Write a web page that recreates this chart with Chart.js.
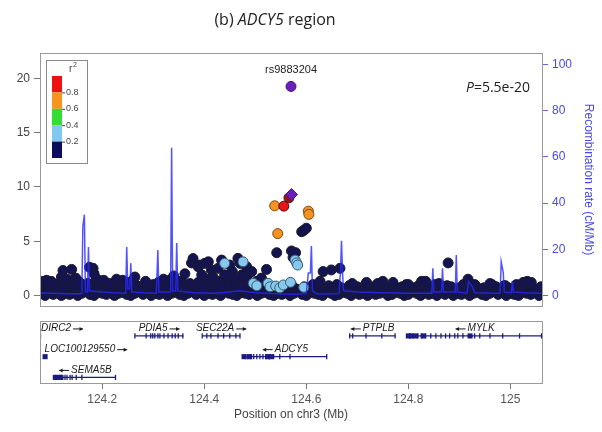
<!DOCTYPE html>
<html><head><meta charset="utf-8">
<script src="https://cdn.jsdelivr.net/npm/chart.js@4"></script>
<style>
html,body{margin:0;padding:0;background:#fff;}
#wrap{position:relative;width:602px;height:432px;overflow:hidden;}
canvas{position:absolute;left:0;top:0;}
</style></head><body>
<div id="wrap"><canvas id="c1" width="602" height="432" style="width:602px;height:432px"></canvas><canvas id="c2" width="602" height="432" style="width:602px;height:432px"></canvas></div>
<script>
// ---------------- DATA ----------------
const xRange = [124.078, 125.062];
const yTicks = [0, 5, 10, 15, 20];
const y2Ticks = [0, 20, 40, 60, 80, 100];
const xTicks = [124.2, 124.4, 124.6, 124.8, 125.0];
const r2Legend = ['0.8', '0.6', '0.4', '0.2'];

// recombination rate (cM/Mb)
const recomb = [[124.078,1.2],[124.10,1.0],[124.13,0.8],[124.160,0.8],[124.162,30],[124.165,35],[124.167,1.5],[124.171,1.5],[124.173,21],[124.175,2],[124.20,1.5],[124.22,1.2],[124.246,1.0],[124.248,21],[124.250,3],[124.254,3],[124.256,14],[124.258,1.5],[124.28,1.2],[124.306,1.0],[124.309,19.7],[124.311,1.5],[124.334,1.5],[124.336,64],[124.338,2],[124.344,2],[124.346,22.7],[124.348,2],[124.38,1.2],[124.42,1.0],[124.45,1.5],[124.47,2.0],[124.50,1.2],[124.55,0.6],[124.58,0.5],[124.600,0.8],[124.604,9.7],[124.608,9.7],[124.610,21.4],[124.612,2],[124.62,0.8],[124.64,0.6],[124.664,0.8],[124.667,10],[124.669,23.7],[124.671,10],[124.673,2],[124.70,1.5],[124.75,1.2],[124.80,1.0],[124.846,1.0],[124.848,11.8],[124.850,1.5],[124.865,1.5],[124.867,11.8],[124.869,1.5],[124.892,1.5],[124.894,17.5],[124.896,1.5],[124.915,1.0],[124.918,6],[124.925,4],[124.93,1.2],[124.97,1.0],[124.980,1.0],[124.982,14.6],[124.986,10],[124.988,1.5],[125.002,1.2],[125.004,6.3],[125.006,1.5],[125.03,1.2],[125.061,1.0]];

// SNPs with r2 < 0.2 (navy): low row, upper row, elevated
const navyLowPos = [124.080,124.088,124.096,124.104,124.112,124.120,124.128,124.136,124.144,124.152,124.160,124.168,124.176,124.184,124.192,124.200,124.208,124.216,124.224,124.232,124.240,124.248,124.256,124.264,124.272,124.280,124.288,124.296,124.304,124.312,124.320,124.328,124.336,124.344,124.352,124.360,124.368,124.376,124.384,124.392,124.400,124.408,124.416,124.424,124.432,124.440,124.448,124.456,124.464,124.472,124.480,124.488,124.496,124.504,124.512,124.520,124.528,124.536,124.544,124.552,124.560,124.568,124.576,124.584,124.592,124.600,124.608,124.616,124.624,124.632,124.640,124.648,124.656,124.664,124.672,124.680,124.688,124.696,124.704,124.712,124.720,124.728,124.736,124.744,124.752,124.760,124.768,124.776,124.784,124.792,124.800,124.808,124.816,124.824,124.832,124.840,124.848,124.856,124.864,124.872,124.880,124.888,124.896,124.904,124.912,124.920,124.928,124.936,124.944,124.952,124.960,124.968,124.976,124.984,124.992,125.000,125.008,125.016,125.024,125.032,125.040,125.048,125.056];
const navyLowP = [0.2,0.0,0.3,0.1,0.4,0.0,0.2,0.1,0.3,0.0,0.2,0.4,0.1,0.0,0.3,0.2,0.1,0.4,0.0,0.2,0.3,0.1,0.0,0.2,0.4,0.1,0.3,0.0,0.2,0.1,0.4,0.0,0.2,0.3,0.1,0.0,0.2,0.4,0.1,0.3,0.0,0.2,0.1,0.3,0.0,0.4,0.2,0.1,0.0,0.3,0.2,0.1,0.4,0.0,0.2,0.3,0.1,0.0,0.2,0.1,0.3,0.0,0.2,0.4,0.1,0.0,0.3,0.2,0.1,0.0,0.4,0.2,0.0,0.1,0.3,0.2,0.0,0.4,0.1,0.2,0.0,0.3,0.1,0.2,0.4,0.0,0.1,0.3,0.2,0.0,0.1,0.4,0.2,0.0,0.3,0.1,0.2,0.0,0.4,0.1,0.3,0.0,0.2,0.1,0.4,0.0,0.2,0.3,0.1,0.0,0.2,0.4,0.1,0.3,0.0,0.2,0.1,0.0,0.3,0.2,0.1,0.4,0.0];
const navyMidPos = [124.084,124.092,124.100,124.108,124.116,124.124,124.132,124.140,124.148,124.156,124.164,124.172,124.180,124.188,124.196,124.204,124.212,124.220,124.228,124.236,124.244,124.252,124.260,124.268,124.276,124.284,124.292,124.300,124.308,124.316,124.324,124.332,124.340,124.348,124.356,124.364,124.372,124.380,124.388,124.396,124.404,124.412,124.420,124.428,124.436,124.444,124.452,124.460,124.468,124.476,124.484,124.492,124.500,124.508,124.516,124.524,124.532,124.540,124.548,124.556,124.564,124.572,124.580,124.588,124.596,124.604,124.612,124.620,124.628,124.636,124.644,124.652,124.660,124.668,124.676,124.684,124.692,124.700,124.708,124.716,124.724,124.732,124.740,124.748,124.756,124.764,124.772,124.780,124.788,124.796,124.804,124.812,124.820,124.828,124.836,124.844,124.852,124.860,124.868,124.876,124.884,124.892,124.900,124.908,124.916,124.924,124.932,124.940,124.948,124.956,124.964,124.972,124.980,124.988,124.996,125.004,125.012,125.020,125.028,125.036,125.044,125.052,125.060];
const navyMidP = [1.0,0.7,1.3,0.8,1.1,0.6,1.4,0.9,0.7,1.2,0.8,1.1,0.7,1.5,0.9,1.2,0.6,1.0,1.3,0.8,1.1,0.7,1.4,0.9,0.6,1.1,0.8,1.0,0.7,1.2,0.9,1.4,0.6,1.0,1.3,0.8,1.1,0.9,1.2,0.8,1.5,1.0,0.7,1.3,0.9,1.6,1.1,0.8,1.2,0.9,1.2,0.6,1.0,0.8,1.1,0.7,0.5,0.8,0.4,0.7,0.5,0.9,0.6,0.4,0.8,0.5,0.7,0.6,0.8,0.5,0.9,0.6,1.0,0.7,0.5,0.9,0.6,0.8,0.5,1.0,0.7,0.8,0.6,1.0,0.7,0.5,0.9,0.6,0.8,1.0,0.5,0.7,0.9,0.6,0.8,0.5,1.0,0.7,0.6,0.9,0.8,0.5,0.7,1.0,0.6,0.8,0.9,0.5,0.7,0.6,1.0,0.8,0.5,0.9,0.7,0.6,1.0,0.8,0.6,0.9,0.7,0.5,0.8];
const navyHighPos = [124.084,124.091,124.103,124.120,124.123,124.131,124.140,124.148,124.155,124.175,124.182,124.184,124.190,124.203,124.214,124.228,124.240,124.252,124.264,124.285,124.310,124.320,124.340,124.352,124.362,124.375,124.378,124.388,124.391,124.395,124.401,124.408,124.410,124.414,124.417,124.427,124.434,124.440,124.450,124.455,124.458,124.466,124.470,124.474,124.483,124.484,124.493,124.503,124.512,124.522,124.542,124.571,124.574,124.579,124.591,124.595,124.600,124.613,124.627,124.633,124.649,124.666,124.690,124.718,124.740,124.750,124.770,124.800,124.826,124.834,124.860,124.878,124.917,124.930,124.960,124.990,125.025,125.033,125.041];
const navyHighP = [1.3,1.4,1.1,1.7,2.3,1.5,2.4,1.6,1.2,2.6,2.5,2.0,1.5,1.4,1.1,1.5,1.4,1.2,1.7,1.3,1.2,1.5,1.8,1.3,2.0,3.0,3.4,2.65,2.8,1.9,2.96,3.1,1.3,2.35,1.7,2.5,3.26,1.9,2.8,2.2,1.6,3.42,2.96,1.9,2.65,1.6,2.2,1.3,1.6,2.4,3.94,4.1,3.5,3.94,5.87,6.0,6.2,1.0,1.3,2.2,2.35,2.5,1.1,1.2,1.1,1.3,1.2,1.0,1.3,1.3,1.1,3.0,1.5,1.0,1.1,0.9,1.2,1.3,1.2];
// r2 0.2-0.4 (light blue)
const lightPos = [124.440,124.476,124.496,124.503,124.525,124.529,124.540,124.548,124.555,124.569,124.595,124.578,124.581,124.583];
const lightP = [2.96,3.1,1.12,0.9,1.12,0.8,0.87,0.7,0.97,1.21,0.75,3.26,3.0,2.8];
// r2 0.6-0.8 (orange)
const orangePos = [124.538,124.604,124.605,124.544];
const orangeP = [8.26,7.77,7.47,5.7];
// r2 0.8-1 (red)
const redPos = [124.556,124.566];
const redP = [8.23,9.0];
// index SNP rs9883204 (discovery and combined)
const leadPos = [124.571,124.570];
const leadP = [9.3,19.26];
const leadName = 'rs9883204';
const pText = '5.5e-20';

// genes
const geneNames = ['DIRC2','PDIA5','SEC22A','PTPLB','MYLK','LOC100129550','ADCY5','SEMA5B'];
const geneRows = [1,1,1,1,1,2,2,3];
const geneStarts = [123.95,124.264,124.396,124.685,124.800,124.087,124.478,124.108];
const geneEnds = [124.079,124.359,124.470,124.775,125.130,124.090,124.640,124.226];
const geneStrands = ['+','+','+','-','-','+','-','-'];
const exonTicks = [
  [124.079],
  [124.264,124.286,124.295,124.299,124.303,124.309,124.313,124.321,124.329,124.337,124.343,124.349,124.358],
  [124.396,124.405,124.413,124.427,124.438,124.450,124.462,124.470],
  [124.685,124.691,124.717,124.748,124.774],
  [124.803,124.809,124.818,124.826,124.834,124.844,124.854,124.864,124.873,124.881,124.891,124.897,124.907,124.930,124.940,124.960,124.985,125.018,125.061],
  [],
  [124.481,124.485,124.491,124.497,124.503,124.509,124.515,124.521,124.528,124.536,124.548,124.568,124.640],
  [124.117,124.121,124.127,124.131,124.137,124.141,124.149,124.160,124.226]
];
const exonBlocks = [
  [], [], [], [],
  [124.800,124.806,124.815,124.829,124.921],
  [124.088],
  [124.478,124.489,124.524,124.530],
  [124.108,124.111,124.119]
];

// ---------------- DRAWING ----------------
const FONT = "'Liberation Sans', Arial, Helvetica, sans-serif";
const NAVY = '#141452';
const zip = (a, b) => a.map((v, i) => ({x: v, y: b[i]}));

const framePlugin = {
  id: 'frame',
  afterDatasetsDraw(chart) {
    const {ctx, chartArea: a} = chart;
    ctx.save();
    ctx.strokeStyle = '#9a9a9a';
    ctx.lineWidth = 1;
    ctx.strokeRect(Math.round(a.left) + 0.5, Math.round(a.top) + 0.5, Math.round(a.right - a.left), Math.round(a.bottom - a.top));
    ctx.restore();
  }
};

const annotPlugin = {
  id: 'annot',
  afterDraw(chart) {
    const {ctx, chartArea: a, scales} = chart;
    ctx.save();
    // title
    ctx.fillStyle = '#222';
    ctx.textBaseline = 'middle';
    const tf = "16px 'Open Sans', sans-serif", tfi = "italic 16px 'Open Sans', sans-serif";
    const parts = [['(b) ', tf], ['ADCY5', tfi], [' region', tf]];
    let tw = 0;
    parts.forEach(p => { ctx.font = p[1]; tw += ctx.measureText(p[0]).width; });
    let tx = 275 - tw / 2;
    ctx.textAlign = 'left';
    parts.forEach(p => { ctx.font = p[1]; ctx.fillText(p[0], tx, 20); tx += ctx.measureText(p[0]).width; });
    // lead SNP name
    const lx = scales.x.getPixelForValue(leadPos[1]);
    const ly = scales.y.getPixelForValue(leadP[1]);
    ctx.font = '11px ' + FONT;
    ctx.textAlign = 'center';
    ctx.fillStyle = '#222';
    ctx.fillText(leadName, lx, ly - 16);
    // P value
    const pf = "14px 'Open Sans', sans-serif", pfi = "italic 14px 'Open Sans', sans-serif";
    ctx.textAlign = 'left';
    let px = a.left + 426;
    ctx.font = pfi; ctx.fillText('P', px, a.top + 35); px += ctx.measureText('P').width;
    ctx.font = pf; ctx.fillText('=' + pText, px, a.top + 35);
    // r2 legend
    const L = a.left + 6, T = a.top + 7;
    ctx.strokeStyle = '#8a8a8a'; ctx.lineWidth = 1;
    ctx.strokeRect(L + 0.5, T + 0.5, 41, 103);
    const cols = ['#ee1111', '#f7931e', '#33dd33', '#80c8f2', '#0c0c5c'];
    const bx = L + 6, by = T + 16, bw = 10, bh = 16.4;
    cols.forEach((c, i) => { ctx.fillStyle = c; ctx.fillRect(bx, by + i * bh, bw, bh); });
    ctx.font = '9px ' + FONT;
    ctx.fillStyle = '#444';
    ctx.textBaseline = 'middle';
    ctx.strokeStyle = '#444';
    r2Legend.forEach((t, i) => {
      const yy = by + (i + 1) * bh;
      ctx.beginPath(); ctx.moveTo(bx + bw, yy + 0.5); ctx.lineTo(bx + bw + 3, yy + 0.5); ctx.stroke();
      ctx.fillText(t, bx + bw + 4, yy);
    });
    ctx.font = '10px ' + FONT;
    ctx.fillText('r', L + 23, T + 9);
    ctx.font = '7px ' + FONT;
    ctx.fillText('2', L + 27, T + 5);
    ctx.restore();
  }
};

const ptBase = {pointRadius: 5, pointBorderWidth: 1, pointHoverRadius: 5};

new Chart(document.getElementById('c1'), {
  type: 'scatter',
  data: {
    datasets: [
      {type: 'line', data: recomb.map(r => ({x: r[0], y: r[1]})), yAxisID: 'y2', borderColor: 'rgba(40,40,250,0.8)', borderWidth: 1.5, pointRadius: 0, tension: 0, order: 0},
      Object.assign({data: [zip(leadPos, leadP)[1]], backgroundColor: '#6a1fb8', borderColor: '#4a1088', order: 1}, ptBase),
      Object.assign({data: [zip(leadPos, leadP)[0]], backgroundColor: '#6a1fb8', borderColor: '#4a1088', pointStyle: 'rectRot', order: 2}, ptBase, {pointRadius: 6}),
      Object.assign({data: zip(redPos, redP), backgroundColor: ['#e8141c', '#9a1414'], borderColor: '#5a1010', order: 3}, ptBase),
      Object.assign({data: zip(orangePos, orangeP), backgroundColor: '#f59322', borderColor: '#7a4a10', order: 4}, ptBase),
      Object.assign({data: zip(lightPos, lightP), backgroundColor: '#86c8ee', borderColor: '#3a5a70', order: 5}, ptBase),
      Object.assign({data: zip(navyHighPos, navyHighP), backgroundColor: NAVY, borderColor: '#1a1a2a', order: 6}, ptBase),
      Object.assign({data: zip(navyMidPos, navyMidP), backgroundColor: NAVY, borderColor: '#1a1a2a', order: 7}, ptBase),
      Object.assign({data: zip(navyLowPos, navyLowP), backgroundColor: NAVY, borderColor: '#1a1a2a', order: 8}, ptBase)
    ]
  },
  options: {
    responsive: false, animation: false, devicePixelRatio: 1,
    layout: {padding: {top: 53, bottom: 126, left: 0, right: 0}},
    plugins: {legend: {display: false}, tooltip: {enabled: false}},
    scales: {
      x: {type: 'linear', min: xRange[0], max: xRange[1], display: false},
      y: {
        position: 'left', min: -0.97, max: 22.34,
        afterFit: s => { s.width = 40; },
        afterBuildTicks: s => { s.ticks = yTicks.map(v => ({value: v})); },
        grid: {drawOnChartArea: false, drawTicks: true, tickLength: 6, color: '#777'},
        border: {display: false},
        ticks: {color: '#444', font: {size: 12, family: FONT}, padding: 4}
      },
      y2: {
        position: 'right', min: -4.55, max: 104.98,
        afterFit: s => { s.width = 60; },
        afterBuildTicks: s => { s.ticks = y2Ticks.map(v => ({value: v})); },
        grid: {drawOnChartArea: false, drawTicks: true, tickLength: 6, color: '#6666dd'},
        border: {display: false},
        ticks: {color: '#4a4ae0', font: {size: 12, family: FONT}, padding: 4},
        title: {display: true, text: 'Recombination rate (cM/Mb)', color: '#4a4ae0', font: {size: 12, family: FONT}, padding: {top: 6, bottom: 6}}
      }
    }
  },
  plugins: [framePlugin, annotPlugin]
});

// gene panel
const geneDatasets = [];
geneNames.forEach((g, i) => {
  geneDatasets.push({type: 'line', data: [{x: geneStarts[i], y: geneRows[i]}, {x: geneEnds[i], y: geneRows[i]}], borderColor: '#1c1c80', borderWidth: 1.2, pointRadius: 0});
});
const tickPts = [], blockPts = [];
exonTicks.forEach((arr, i) => arr.forEach(p => tickPts.push({x: p, y: geneRows[i]})));
exonBlocks.forEach((arr, i) => arr.forEach(p => blockPts.push({x: p, y: geneRows[i]})));
geneDatasets.push({type: 'scatter', data: tickPts, pointStyle: 'line', rotation: 90, pointRadius: 2.6, pointBorderWidth: 1.3, borderColor: '#1c1c80', backgroundColor: '#1c1c80'});
geneDatasets.push({type: 'scatter', data: blockPts, pointStyle: 'rect', pointRadius: 3.6, pointBorderWidth: 0, borderColor: '#1c1c80', backgroundColor: '#1c1c80'});

function drawArrow(ctx, x0, y, len, dir) {
  ctx.beginPath();
  ctx.moveTo(x0, y); ctx.lineTo(x0 + len, y); ctx.stroke();
  const tip = dir > 0 ? x0 + len : x0;
  ctx.beginPath();
  ctx.moveTo(tip, y);
  ctx.lineTo(tip - dir * 3.5, y - 2);
  ctx.lineTo(tip - dir * 3.5, y + 2);
  ctx.closePath(); ctx.fill();
}

const geneLabelPlugin = {
  id: 'geneLabels',
  afterDatasetsDraw(chart) {
    const {ctx, chartArea: a, scales} = chart;
    ctx.save();
    ctx.font = 'italic 10px ' + FONT;
    ctx.fillStyle = '#1a1a1a';
    ctx.strokeStyle = '#1a1a1a';
    ctx.lineWidth = 1;
    ctx.textBaseline = 'middle';
    ctx.textAlign = 'left';
    const AL = 10, GAP = 2;
    geneNames.forEach((g, i) => {
      const s = Math.max(geneStarts[i], xRange[0]), e = Math.min(geneEnds[i], xRange[1]);
      const sp = scales.x.getPixelForValue(geneStarts[i]);
      const c = scales.x.getPixelForValue((s + e) / 2);
      const tw = ctx.measureText(g).width;
      const w = tw + GAP + AL;
      let x0 = c - w / 2;
      if (x0 < a.left + 1) x0 = Math.max(a.left + 1, sp);
      if (x0 + w > a.right - 1) x0 = a.right - 1 - w;
      const yy = scales.y.getPixelForValue(geneRows[i]) - 7.5;
      if (geneStrands[i] === '+') {
        ctx.fillText(g, x0, yy);
        drawArrow(ctx, x0 + tw + GAP, yy + 0.5, AL, 1);
      } else {
        drawArrow(ctx, x0, yy + 0.5, AL, -1);
        ctx.fillText(g, x0 + AL + GAP, yy);
      }
    });
    ctx.restore();
  }
};

new Chart(document.getElementById('c2'), {
  type: 'scatter',
  data: {datasets: geneDatasets},
  options: {
    responsive: false, animation: false, devicePixelRatio: 1,
    layout: {padding: {top: 321, bottom: 0, left: 40, right: 60}},
    plugins: {legend: {display: false}, tooltip: {enabled: false}},
    scales: {
      x: {
        type: 'linear', min: xRange[0], max: xRange[1],
        afterFit: s => { s.height = 49; },
        afterBuildTicks: s => { s.ticks = xTicks.map(v => ({value: v})); },
        grid: {drawOnChartArea: false, drawTicks: true, tickLength: 6, color: '#777'},
        border: {display: false},
        ticks: {color: '#555', font: {size: 12, family: FONT}, padding: 3, maxRotation: 0, callback: v => (v === 125 ? '125' : v.toFixed(1))},
        title: {display: true, text: 'Position on chr3 (Mb)', color: '#444', font: {size: 12, family: FONT}, padding: {top: 0, bottom: 10}}
      },
      y: {type: 'linear', min: 0.28, max: 3.27, reverse: true, display: false}
    }
  },
  plugins: [framePlugin, geneLabelPlugin]
});
</script></body></html>
